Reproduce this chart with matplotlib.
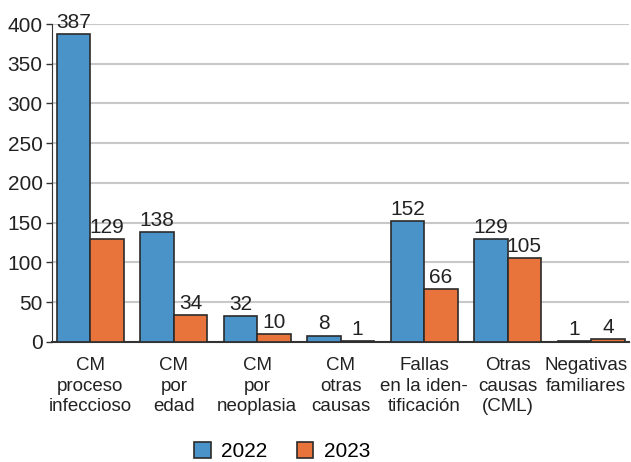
import matplotlib.pyplot as plt
import matplotlib.transforms as mtransforms
import numpy as np
from matplotlib.patches import Patch

plt.rcParams['font.family'] = ['Liberation Sans', 'DejaVu Sans']

categories = ['CM\nproceso\ninfeccioso', 'CM\npor\nedad', 'CM\npor\nneoplasia',
              'CM\notras\ncausas', 'Fallas\nen la iden-\ntificación',
              'Otras\ncausas\n(CML)', 'Negativas\nfamiliares']
vals_2022 = [387, 138, 32, 8, 152, 129, 1]
vals_2023 = [129, 34, 10, 1, 66, 105, 4]
yticks = [0, 50, 100, 150, 200, 250, 300, 350, 400]

blue = '#4a93c9'
orange = '#e8743b'
edge = '#2b2b2b'
txt = '#222222'

fig = plt.figure(figsize=(6.31, 4.62), dpi=100)
ax = fig.add_axes([0.083, 0.26, 0.914, 0.688])

x = np.arange(len(categories))
w = 0.4
b1 = ax.bar(x - w / 2, vals_2022, w, color=blue, edgecolor=edge, linewidth=1.2, zorder=3)
b2 = ax.bar(x + w / 2, vals_2023, w, color=orange, edgecolor=edge, linewidth=1.2, zorder=3)

for bars, vals in ((b1, vals_2022), (b2, vals_2023)):
    for r, v in zip(bars, vals):
        ax.annotate(str(v), (r.get_x() + r.get_width() / 2, v), xytext=(0, 1.5),
                    textcoords='offset points', ha='center', va='bottom',
                    fontsize=15, color=txt)

ax.set_xlim(-0.455, 6.455)
ax.set_ylim(0, 400)
ax.set_yticks(yticks)
ax.set_xticks(x)
ax.set_xticklabels(categories, fontsize=13.5, color=txt, linespacing=1.27)
ax.tick_params(axis='x', length=0, pad=11)
ax.tick_params(axis='y', length=4, width=1, color='#333333', labelsize=15,
               labelcolor=txt, pad=3)
ax.yaxis.grid(True, color='#c8c8c8', linewidth=1.5, zorder=0)
ax.set_axisbelow(True)
for s in ('top', 'right'):
    ax.spines[s].set_visible(False)
ax.spines['left'].set_color('#333333')
ax.spines['bottom'].set_color('#333333')
ax.spines['bottom'].set_linewidth(1.5)

# nudge the last label so it stays inside the figure
last = ax.get_xticklabels()[-1]
shift = mtransforms.ScaledTranslation(-5 / 100, 0, fig.dpi_scale_trans)
last.set_transform(last.get_transform() + shift)

handles = [Patch(facecolor=blue, edgecolor=edge, linewidth=1.2, label='2022'),
           Patch(facecolor=orange, edgecolor=edge, linewidth=1.2, label='2023')]
fig.legend(handles=handles, loc='center', bbox_to_anchor=(0.447, 0.022), ncol=2,
           frameon=False, fontsize=15, handlelength=0.8, handleheight=0.8,
           columnspacing=1.4, handletextpad=0.5)

fig.savefig('out.png', dpi=100)
